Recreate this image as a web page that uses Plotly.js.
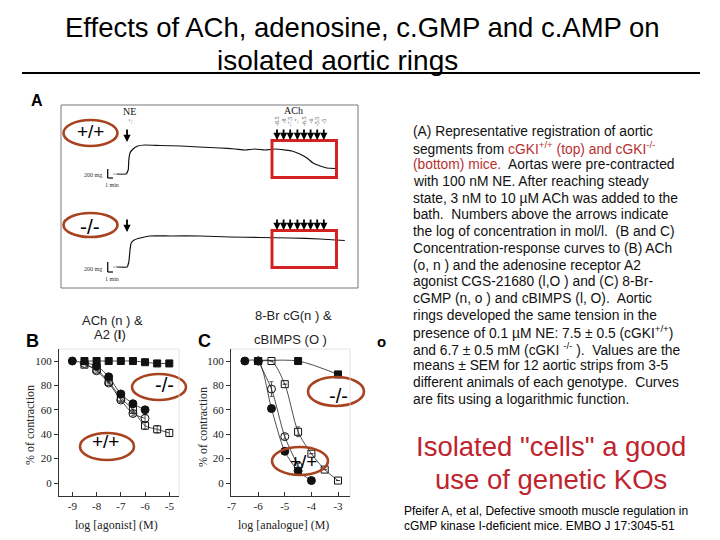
<!DOCTYPE html>
<html><head><meta charset="utf-8">
<script src="https://cdn.plot.ly/plotly-3.0.1.min.js"></script>
<style>html,body{margin:0;padding:0;background:#fff}#plot{width:720px;height:540px}</style>
</head><body><div id="plot"></div>
<script>
// ---------- Panel A: tension recordings (time in min, tension in mg) ----------
const wtTime    = [9.3, 10.8, 11.2, 11.3, 11.5, 12, 12.8, 14, 16.5, 20, 23, 26.5, 29, 30.7, 32.3, 34, 35.7, 37.3, 38.5, 39.8, 41, 42, 43.2, 44.3, 45.7];
const wtTension = [2280, 2280, 2360, 2560, 2700, 2780, 2840, 2860, 2850, 2840, 2820, 2800, 2780, 2760, 2780, 2760, 2780, 2760, 2740, 2680, 2600, 2500, 2440, 2400, 2390];
const koTime    = [9.3, 11, 11.3, 11.5, 11.7, 12.2, 13.2, 14.8, 18.2, 23.2, 28.2, 33.2, 38.2, 43.2, 47.3];
const koTension = [420, 420, 520, 760, 900, 960, 1000, 1040, 1040, 1040, 1020, 1010, 1000, 980, 950];
const neTime = 11;
const achTimes = [36.0, 37.1, 38.2, 39.4, 40.5, 41.6, 42.7, 43.8];
const achLogConc = ["-8.5", "-8", "-7.5", "-7", "-6.5", "-6", "-5.5", "-5"];

// ---------- Panel B: ACh & A2 agonist ----------
const bSqFilledX = [-8.5, -8, -7.5, -7, -6.5, -6, -5.5, -5];
const bSqFilledY = [100, 100, 100, 100, 100, 99, 98, 98];
const bSqOpenX   = [-8.5, -8, -7.5, -7, -6.5, -6, -5.5, -5];
const bSqOpenY   = [97, 93, 83, 70, 60, 47, 44, 41];
const bSqOpenErr = [0, 0, 0, 0, 2, 3, 3, 3];
const bCircFilledX = [-9, -8, -7.5, -7, -6.5, -6];
const bCircFilledY = [100, 96, 87, 73, 65, 60];
const bCircFilledErr = [0, 0, 2, 2, 2, 2];
const bCircOpenX = [-8.5, -8, -7.5, -7, -6.5, -6];
const bCircOpenY = [98, 92, 82, 68, 57, 53];
const bCircOpenErr = [0, 0, 0, 2, 2, 3];
const bTicksX = [-9, -8, -7, -6, -5];

// ---------- Panel C: 8-Br cGMP & cBIMPS ----------
const cCircFilledX = [-6.5, -6, -5.5, -5, -4.5, -4];
const cCircFilledY = [100, 100, 61, 26, 10, 2];
const cCircOpenX = [-6, -5.5, -5, -4.5];
const cCircOpenY = [100, 77, 38, 14];
const cCircOpenErr = [0, 6, 2, 2];
const cSqOpenX = [-6, -5.5, -5, -4.5, -4, -3.5, -3];
const cSqOpenY = [100, 100, 81, 42, 24, 11, 2];
const cSqOpenErr = [0, 0, 0, 4, 0, 0, 0];
const cSqFilledX = [-6, -4.5, -3];
const cSqFilledY = [100, 100, 89];
const cTicksX = [-7, -6, -5, -4, -3];
const yTicks = [0, 20, 40, 60, 80, 100];

// ---------- helpers ----------
const W = 720, H = 540;
const px = v => v / W, py = v => 1 - v / H;
const serif = "Liberation Serif, Times New Roman, serif";
const sans = "Liberation Sans, Arial, sans-serif";
const ink = "#111";
const ellipseColor = "#a8431f";

function curve(x, y, xa, ya, marker, err) {
  const t = {x: x, y: y, xaxis: xa, yaxis: ya, type: "scatter", mode: "lines+markers",
    line: {color: "#222", width: 0.8, shape: "spline", smoothing: 0.8},
    marker: marker, hoverinfo: "skip", cliponaxis: false};
  if (err) t.error_y = {type: "data", array: err, visible: true, color: "#333", thickness: 0.8, width: 2};
  return t;
}
const mFC = {symbol: "circle", size: 8, color: ink, line: {color: ink, width: 1}};
const mOC = {symbol: "circle-open", size: 8, color: ink, line: {width: 1}};
const mFS = {symbol: "square", size: 7, color: ink, line: {color: ink, width: 1}};
const mOS = {symbol: "square-open", size: 7, color: ink, line: {width: 1}};

const data = [
  {x: wtTime, y: wtTension, xaxis: "x", yaxis: "y", type: "scatter", mode: "lines",
   line: {color: "#111", width: 1.2, shape: "spline", smoothing: 0.5}, hoverinfo: "skip"},
  {x: koTime, y: koTension, xaxis: "x", yaxis: "y", type: "scatter", mode: "lines",
   line: {color: "#111", width: 1.2, shape: "spline", smoothing: 0.5}, hoverinfo: "skip"},
  curve(bSqOpenX, bSqOpenY, "x2", "y2", mOS, bSqOpenErr),
  curve(bCircOpenX, bCircOpenY, "x2", "y2", mOC, bCircOpenErr),
  curve(bCircFilledX, bCircFilledY, "x2", "y2", mFC, bCircFilledErr),
  curve(bSqFilledX, bSqFilledY, "x2", "y2", mFS),
  curve(cSqOpenX, cSqOpenY, "x3", "y3", mOS, cSqOpenErr),
  curve(cCircOpenX, cCircOpenY, "x3", "y3", mOC, cCircOpenErr),
  curve(cCircFilledX, cCircFilledY, "x3", "y3", mFC),
  curve(cSqFilledX, cSqFilledY, "x3", "y3", mFS)
];

const axisCommon = {showgrid: false, zeroline: false, showline: true, linecolor: "#333", linewidth: 1,
  tickcolor: "#333", ticklen: 4, tickfont: {family: serif, size: 11, color: "#222"}, fixedrange: true};

const layout = {
  width: W, height: H, margin: {l: 0, r: 0, t: 0, b: 0},
  paper_bgcolor: "#fff", plot_bgcolor: "rgba(0,0,0,0)", showlegend: false,
  xaxis:  {domain: [px(61), px(358)], range: [0, 49.5], visible: false, fixedrange: true, anchor: "y"},
  yaxis:  {domain: [py(288), py(105)], range: [0, 3660], visible: false, fixedrange: true, anchor: "x"},
  xaxis2: Object.assign({}, axisCommon, {domain: [px(59), px(179)], range: [-9.55, -4.6], anchor: "y2",
          tickvals: bTicksX, ticktext: bTicksX.map(String), ticks: "inside"}),
  yaxis2: Object.assign({}, axisCommon, {domain: [py(496), py(349)], range: [-10.66, 109.84], anchor: "x2",
          tickvals: yTicks, ticks: "outside"}),
  xaxis3: Object.assign({}, axisCommon, {domain: [px(231), px(350)], range: [-7.02, -2.55], anchor: "y3",
          tickvals: cTicksX, ticktext: cTicksX.map(String), ticks: "inside"}),
  yaxis3: Object.assign({}, axisCommon, {domain: [py(496), py(349)], range: [-10.66, 109.84], anchor: "x3",
          tickvals: yTicks, ticks: "outside"}),
  shapes: [],
  annotations: []
};

const S = layout.shapes, A = layout.annotations;
function txt(x, y, text, opts) {
  A.push(Object.assign({xref: "paper", yref: "paper", x: px(x), y: py(y), text: text, showarrow: false,
    xanchor: "center", yanchor: "middle", font: {family: sans, size: 13, color: "#000"}}, opts || {}));
}
function ellipse(cx, cy, rx, ry) {
  S.push({type: "circle", xref: "paper", yref: "paper", x0: px(cx - rx), x1: px(cx + rx), y0: py(cy + ry), y1: py(cy - ry),
    line: {color: ellipseColor, width: 2.6}});
}
function rect(x0, y0, x1, y1, color, w) {
  S.push({type: "rect", xref: "paper", yref: "paper", x0: px(x0), x1: px(x1), y0: py(y1), y1: py(y0),
    line: {color: color, width: w}});
}
function line(x0, y0, x1, y1, color, w) {
  S.push({type: "line", xref: "paper", yref: "paper", x0: px(x0), x1: px(x1), y0: py(y0), y1: py(y1),
    line: {color: color, width: w}});
}

// Title
txt(362, 28, "Effects of ACh, adenosine, c.GMP and c.AMP on", {font: {family: sans, size: 27.5, color: "#000"}});
txt(337, 61, "isolated aortic rings", {font: {family: sans, size: 28, color: "#000"}});
line(22, 73, 700, 73, "#000", 2.2);

// Panel A
txt(37, 101, "<b>A</b>", {font: {family: sans, size: 16, color: "#000"}});
rect(61, 105, 358, 288, "#777", 1);
rect(272, 140.5, 336.5, 177.5, "#d42222", 3);
rect(272, 230.5, 336.5, 267.5, "#d42222", 3);
ellipse(90.5, 133, 27, 13);
ellipse(90.5, 225, 27, 12);
txt(90, 131, "+/+", {font: {family: sans, size: 19, color: "#000"}});
txt(90, 226, "-/-", {font: {family: sans, size: 21, color: "#000"}});
txt(129, 112, "NE", {font: {family: serif, size: 10, color: "#111"}});
txt(131, 122, "-7", {textangle: -90, font: {family: serif, size: 6, color: "#666"}});
txt(293, 111, "ACh", {font: {family: serif, size: 10, color: "#111"}});
// scale bars
[[169, 178], [262, 272]].forEach(function (p) {
  line(107.7, p[0], 107.7, p[1], "#111", 1.3);
  line(107.7, p[1], 113, p[1], "#111", 1.3);
  txt(93, p[1] - 3, "200 mg", {font: {family: serif, size: 6, color: "#333"}});
  txt(112, p[1] + 7, "1 min", {font: {family: serif, size: 6, color: "#333"}});
});
line(113, 174, 128, 174, "#888", 0.8);
line(113, 267, 128, 267, "#888", 0.8);
// arrows
function arrow(t, mg, len) {
  A.push({xref: "x", yref: "y", x: t, y: mg, ax: 0, ay: -len, text: "", showarrow: true,
    arrowhead: 2, arrowsize: 0.8, arrowwidth: 1.8, arrowcolor: "#000"});
}
arrow(neTime, 2920, 14);
arrow(neTime, 1120, 14);
achTimes.forEach(function (t, i) {
  arrow(t, 2960, 12);
  arrow(t, 1160, 12);
  A.push({xref: "x", yref: "y", x: t, y: 3340, text: achLogConc[i], showarrow: false, textangle: -90,
    font: {family: serif, size: 6, color: "#555"}});
});

// Panel B
txt(32, 341, "<b>B</b>", {font: {family: sans, size: 18, color: "#000"}});
txt(112, 320, "ACh (n ) &", {font: {family: sans, size: 13, color: "#222"}});
txt(110, 334, "A2 (<b>l</b>)", {font: {family: sans, size: 13, color: "#222"}});
txt(30, 425, "% of contraction", {textangle: -90, font: {family: serif, size: 12, color: "#222"}});
txt(116, 525, "log [agonist] (M)", {font: {family: serif, size: 12, color: "#222"}});
ellipse(159, 387, 27, 13);
ellipse(107, 446.5, 27, 13.5);
txt(164, 385, "-/-", {font: {family: sans, size: 20, color: "#000"}});
txt(105, 441, "+/+", {font: {family: sans, size: 19, color: "#000"}});
line(59, 349, 179, 349, "#ddd", 0.8);
line(179, 349, 179, 496, "#ddd", 0.8);

// Panel C
txt(204, 341, "<b>C</b>", {font: {family: sans, size: 18, color: "#000"}});
txt(293, 315, "8-Br cG(n ) &", {font: {family: sans, size: 13, color: "#222"}});
txt(290, 339, "cBIMPS (O )", {font: {family: sans, size: 13, color: "#222"}});
txt(203, 427, "% of contraction", {textangle: -90, font: {family: serif, size: 12, color: "#222"}});
txt(283, 525, "log [analogue] (M)", {font: {family: serif, size: 12, color: "#222"}});
ellipse(336, 391.5, 28, 14.5);
ellipse(300, 461, 28, 14);
txt(338, 396, "-/-", {font: {family: sans, size: 20, color: "#000"}});
txt(303, 461, "+/+", {font: {family: sans, size: 19, color: "#000"}});
line(231, 349, 350, 349, "#ddd", 0.8);
line(350, 349, 350, 496, "#ddd", 0.8);
txt(381, 341, "<b>o</b>", {font: {family: sans, size: 15, color: "#000"}});

// Right text
const red = "#b83030";
const para = [
  "(A) Representative registration of aortic",
  "segments from <span style='color:" + red + "'>cGKI<sup>+/+</sup> (top) and cGKI<sup>-/-</sup></span>",
  "<span style='color:" + red + "'>(bottom) mice.</span>  Aortas were pre-contracted",
  "with 100 nM NE. After reaching steady",
  "state, 3 nM to 10 µM ACh was added to the",
  "bath.  Numbers above the arrows indicate",
  "the log of concentration in mol/l.  (B and C)",
  "Concentration-response curves to (B) ACh",
  "(o, n ) and the adenosine receptor A2",
  "agonist CGS-21680 (l,O ) and (C) 8-Br-",
  "cGMP (n, o ) and cBIMPS (l, O).  Aortic",
  "rings developed the same tension in the",
  "presence of 0.1 µM NE: 7.5 ± 0.5 (cGKI<sup>+/+</sup>)",
  "and 6.7 ± 0.5 mM (cGKI <sup>-/-</sup> ).  Values are the",
  "means ± SEM for 12 aortic strips from 3-5",
  "different animals of each genotype.  Curves",
  "are fits using a logarithmic function."
];
para.forEach(function (s, i) {
  A.push({xref: "paper", yref: "paper", x: px(411), y: py(131 + i * 16.75), xanchor: "left", yanchor: "middle",
    align: "left", showarrow: false, text: s, font: {family: sans, size: 13.8, color: "#111"}});
});

const bigRed = "#c0242e";
txt(551, 446, "Isolated \"cells\" a good", {font: {family: sans, size: 27.5, color: bigRed}});
txt(551, 479, "use of genetic KOs", {font: {family: sans, size: 27.5, color: bigRed}});
txt(402, 511, "Pfeifer A, et al, Defective smooth muscle regulation in", {xanchor: "left", font: {family: sans, size: 12, color: "#000"}});
txt(402, 526, "cGMP kinase I-deficient mice. EMBO J 17:3045-51", {xanchor: "left", font: {family: sans, size: 12, color: "#000"}});

Plotly.newPlot("plot", data, layout, {staticPlot: true, displayModeBar: false});
</script></body></html>
